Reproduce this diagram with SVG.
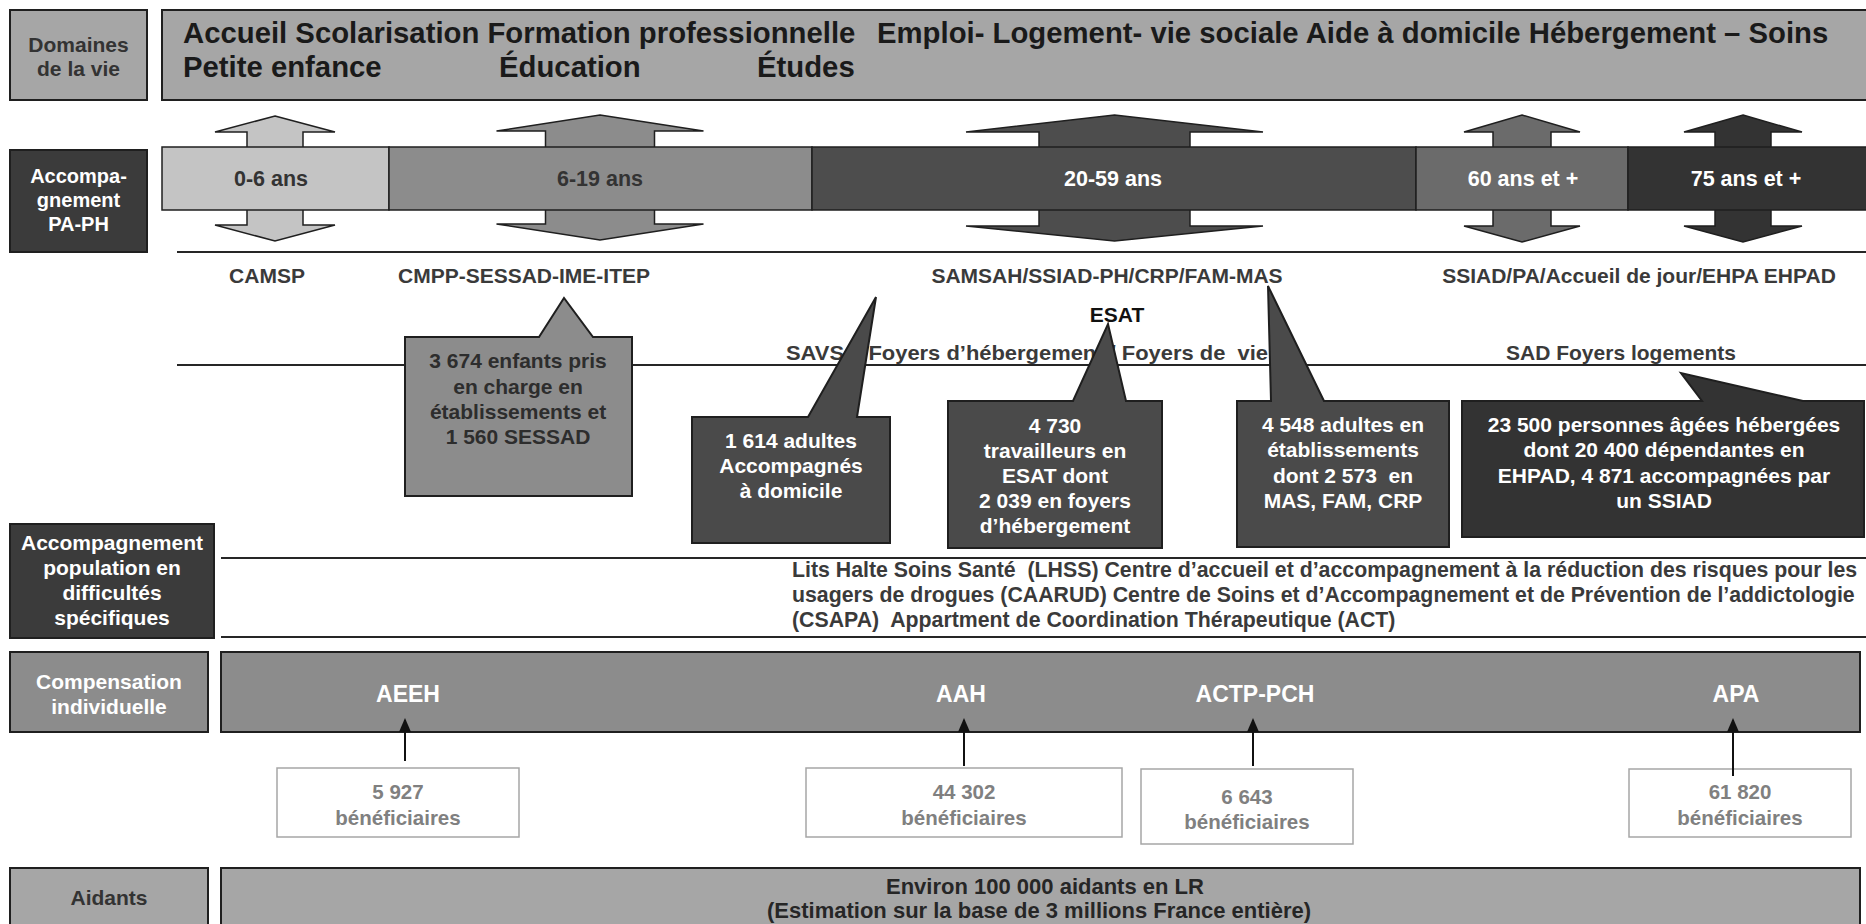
<svg xmlns="http://www.w3.org/2000/svg" width="1866" height="924" viewBox="0 0 1866 924">
<defs>
<style>
text { font-family: "Liberation Sans", Arial, "DejaVu Sans", sans-serif; font-weight: bold; white-space: pre; }
.stk { stroke: #1f1f1f; stroke-width: 2; }
.thin { stroke: #1f1f1f; stroke-width: 1.5; }
.lbl { font-size: 21px; fill: #333; text-anchor: middle; }
.lblw { font-size: 20px; fill: #fff; text-anchor: middle; }
.ban { font-size: 29.3px; fill: #1a1a1a; }
.age { font-size: 21.5px; text-anchor: middle; }
.row { font-size: 21px; fill: #3a3a3a; }
.co { font-size: 21px; text-anchor: middle; }
.sep { stroke: #262626; stroke-width: 2; fill: none; }
.ben { fill: #fff; stroke: #a6a6a6; stroke-width: 1.5; }
.bent { font-size: 20.5px; fill: #808080; text-anchor: middle; }
.comp { font-size: 23px; fill: #fff; text-anchor: middle; }
.conn { stroke: #111; stroke-width: 2; fill: none; }
</style>
<marker id="ah" markerUnits="userSpaceOnUse" markerWidth="14" markerHeight="12" refX="12" refY="6" orient="auto" viewBox="0 0 14 12">
<path d="M0,0 L14,6 L0,12 Z" fill="#111"/>
</marker>
</defs>
<rect x="0" y="0" width="1866" height="924" fill="#fff"/>

<g id="separators">
<line class="sep" x1="177" y1="252" x2="1866" y2="252"/>
<line class="sep" x1="177" y1="365" x2="1866" y2="365"/>
<line class="sep" x1="221" y1="558" x2="1866" y2="558"/>
<line class="sep" x1="221" y1="637" x2="1866" y2="637"/>
</g>

<g id="domaines-label">
<rect x="10" y="10" width="137" height="90" fill="#a6a6a6" class="stk"/>
<text class="lbl" x="78.5" y="52">Domaines</text>
<text class="lbl" x="78.5" y="76">de la vie</text>
</g>
<g id="domaines-banner">
<rect x="162" y="10" width="1710" height="90" fill="#a6a6a6" class="stk"/>
<text class="ban" x="183" y="43">Accueil Scolarisation Formation professionnelle</text>
<text class="ban" x="877" y="43">Emploi- Logement- vie sociale Aide à domicile Hébergement – Soins</text>
<text class="ban" x="183" y="77">Petite enfance</text>
<text class="ban" x="499" y="77">Éducation</text>
<text class="ban" x="757" y="77">Études</text>
</g>

<g id="accompagnement-label">
<rect x="10" y="150" width="137" height="102" fill="#3b3b3b" class="stk"/>
<text class="lblw" x="78.5" y="183">Accompa-</text>
<text class="lblw" x="78.5" y="207">gnement</text>
<text class="lblw" x="78.5" y="231">PA-PH</text>
</g>

<g id="age-arrows">
<polygon class="thin" fill="#c4c4c4" points="275,116 335,132 303,132 303,225 335,225 275,241 215,225 247,225 247,132 215,132"/>
<polygon class="thin" fill="#8c8c8c" points="600,115 703.5,131 654.5,131 654.5,224 703.5,224 600,240 496.5,224 545.5,224 545.5,131 496.5,131"/>
<polygon class="thin" fill="#4d4d4d" points="1114.5,115 1263,132 1190,132 1190,226 1263,226 1114.5,241 966,226 1039,226 1039,132 966,132"/>
<polygon class="thin" fill="#6b6b6b" points="1522,115 1580,132 1551,132 1551,226 1580,226 1522,242 1464,226 1493,226 1493,132 1464,132"/>
<polygon class="thin" fill="#333333" points="1743,115 1802,132 1771,132 1771,226 1802,226 1743,242 1684,226 1715,226 1715,132 1684,132"/>
</g>

<g id="age-bar">
<rect class="thin" x="162" y="147" width="227" height="63" fill="#c4c4c4"/>
<rect class="thin" x="389" y="147" width="423" height="63" fill="#8c8c8c"/>
<rect class="thin" x="812" y="147" width="604" height="63" fill="#4d4d4d"/>
<rect class="thin" x="1416" y="147" width="212" height="63" fill="#6b6b6b"/>
<rect class="thin" x="1628" y="147" width="245" height="63" fill="#333333"/>
<text class="age" x="271" y="186" fill="#333">0-6 ans</text>
<text class="age" x="600" y="186" fill="#333">6-19 ans</text>
<text class="age" x="1113" y="186" fill="#fff">20-59 ans</text>
<text class="age" x="1523" y="186" fill="#fff">60 ans et +</text>
<text class="age" x="1746" y="186" fill="#fff">75 ans et +</text>
</g>

<g id="structures">
<text class="row" x="267" y="283" text-anchor="middle">CAMSP</text>
<text class="row" x="524" y="283" text-anchor="middle">CMPP-SESSAD-IME-ITEP</text>
<text class="row" x="1107" y="283" text-anchor="middle">SAMSAH/SSIAD-PH/CRP/FAM-MAS</text>
<text class="row" x="1639" y="283" text-anchor="middle">SSIAD/PA/Accueil de jour/EHPA EHPAD</text>
<text class="row" x="1117" y="322" text-anchor="middle" style="fill:#111">ESAT</text>
<text class="row" x="786" y="360" textLength="482" lengthAdjust="spacingAndGlyphs">SAVS  / Foyers d’hébergement / Foyers de  vie</text>
<text class="row" x="1621" y="360" text-anchor="middle">SAD Foyers logements</text>
</g>

<g id="callout-enfants">
<path class="stk" fill="#8c8c8c" d="M405,337 L539,337 L564,298 L593,337 L632,337 L632,496 L405,496 Z"/>
<text class="co" x="518" y="368" fill="#2d2d2d">3 674 enfants pris</text>
<text class="co" x="518" y="394" fill="#2d2d2d">en charge en</text>
<text class="co" x="518" y="419" fill="#2d2d2d">établissements et</text>
<text class="co" x="518" y="444" fill="#2d2d2d">1 560 SESSAD</text>
</g>
<g id="callout-domicile">
<path class="stk" fill="#4a4a4a" d="M692,417 L808,417 L876,297 L857,417 L890,417 L890,543 L692,543 Z"/>
<text class="co" x="791" y="448" fill="#fff">1 614 adultes</text>
<text class="co" x="791" y="473" fill="#fff">Accompagnés</text>
<text class="co" x="791" y="498" fill="#fff">à domicile</text>
</g>
<g id="callout-esat">
<path class="stk" fill="#4a4a4a" d="M948,401 L1073,401 L1108,324 L1126,401 L1162,401 L1162,548 L948,548 Z"/>
<text class="co" x="1055" y="433" fill="#fff">4 730</text>
<text class="co" x="1055" y="458" fill="#fff">travailleurs en</text>
<text class="co" x="1055" y="483" fill="#fff">ESAT dont</text>
<text class="co" x="1055" y="508" fill="#fff">2 039 en foyers</text>
<text class="co" x="1055" y="533" fill="#fff">d’hébergement</text>
</g>
<g id="callout-etablissements">
<path class="stk" fill="#4a4a4a" d="M1237,401 L1271,401 L1268,286 L1324,401 L1449,401 L1449,547 L1237,547 Z"/>
<text class="co" x="1343" y="432" fill="#fff">4 548 adultes en</text>
<text class="co" x="1343" y="457" fill="#fff">établissements</text>
<text class="co" x="1343" y="483" fill="#fff">dont 2 573  en</text>
<text class="co" x="1343" y="508" fill="#fff">MAS, FAM, CRP</text>
</g>
<g id="callout-personnes-agees">
<path class="stk" fill="#333333" d="M1462,401 L1702,401 L1681,373 L1803,401 L1864,401 L1864,537 L1462,537 Z"/>
<text class="co" x="1664" y="432" fill="#fff">23 500 personnes âgées hébergées</text>
<text class="co" x="1664" y="457" fill="#fff">dont 20 400 dépendantes en</text>
<text class="co" x="1664" y="483" fill="#fff">EHPAD, 4 871 accompagnées par</text>
<text class="co" x="1664" y="508" fill="#fff">un SSIAD</text>
</g>

<g id="difficultes-label">
<rect x="10" y="524" width="204" height="114" fill="#3b3b3b" class="stk"/>
<text class="co" x="112" y="550" fill="#fff">Accompagnement</text>
<text class="co" x="112" y="575" fill="#fff">population en</text>
<text class="co" x="112" y="600" fill="#fff">difficultés</text>
<text class="co" x="112" y="625" fill="#fff">spécifiques</text>
</g>
<g id="difficultes-text">
<text x="792" y="577" font-size="21.3" fill="#3a3a3a">Lits Halte Soins Santé  (LHSS) Centre d’accueil et d’accompagnement à la réduction des risques pour les</text>
<text x="792" y="602" font-size="21.3" fill="#3a3a3a">usagers de drogues (CAARUD) Centre de Soins et d’Accompagnement et de Prévention de l’addictologie</text>
<text x="792" y="627" font-size="21.3" fill="#3a3a3a">(CSAPA)  Appartment de Coordination Thérapeutique (ACT)</text>
</g>

<g id="compensation-label">
<rect x="10" y="652" width="198" height="80" fill="#8c8c8c" class="stk"/>
<text class="co" x="109" y="689" fill="#fff">Compensation</text>
<text class="co" x="109" y="714" fill="#fff">individuelle</text>
</g>
<g id="compensation-bar">
<rect x="221" y="652" width="1639" height="80" fill="#8c8c8c" class="stk"/>
<text class="comp" x="408" y="702">AEEH</text>
<text class="comp" x="961" y="702">AAH</text>
<text class="comp" x="1255" y="702">ACTP-PCH</text>
<text class="comp" x="1736" y="702">APA</text>
</g>

<g id="benef-aeeh">
<rect class="ben" x="277" y="768" width="242" height="69"/>
<text class="bent" x="398" y="799">5 927</text>
<text class="bent" x="398" y="825">bénéficiaires</text>
</g>
<g id="benef-aah">
<rect class="ben" x="806" y="768" width="316" height="69"/>
<text class="bent" x="964" y="799">44 302</text>
<text class="bent" x="964" y="825">bénéficiaires</text>
</g>
<g id="benef-actp">
<rect class="ben" x="1141" y="769" width="212" height="75"/>
<text class="bent" x="1247" y="804">6 643</text>
<text class="bent" x="1247" y="829">bénéficiaires</text>
</g>
<g id="benef-apa">
<rect class="ben" x="1629" y="769" width="222" height="68"/>
<text class="bent" x="1740" y="799">61 820</text>
<text class="bent" x="1740" y="825">bénéficiaires</text>
</g>

<g id="connectors">
<line class="conn" x1="405" y1="761" x2="405" y2="720" marker-end="url(#ah)"/>
<line class="conn" x1="964" y1="766" x2="964" y2="720" marker-end="url(#ah)"/>
<line class="conn" x1="1253" y1="766" x2="1253" y2="720" marker-end="url(#ah)"/>
<line class="conn" x1="1733" y1="776" x2="1733" y2="720" marker-end="url(#ah)"/>
</g>

<g id="aidants-label">
<rect x="10" y="868" width="198" height="80" fill="#a6a6a6" class="stk"/>
<text class="lbl" x="109" y="905">Aidants</text>
</g>
<g id="aidants-bar">
<rect x="221" y="868" width="1639" height="80" fill="#a6a6a6" class="stk"/>
<text x="886" y="894" font-size="22" fill="#262626">Environ 100 000 aidants en LR</text>
<text x="767" y="918" font-size="22" fill="#262626">(Estimation sur la base de 3 millions France entière)</text>
</g>
</svg>
